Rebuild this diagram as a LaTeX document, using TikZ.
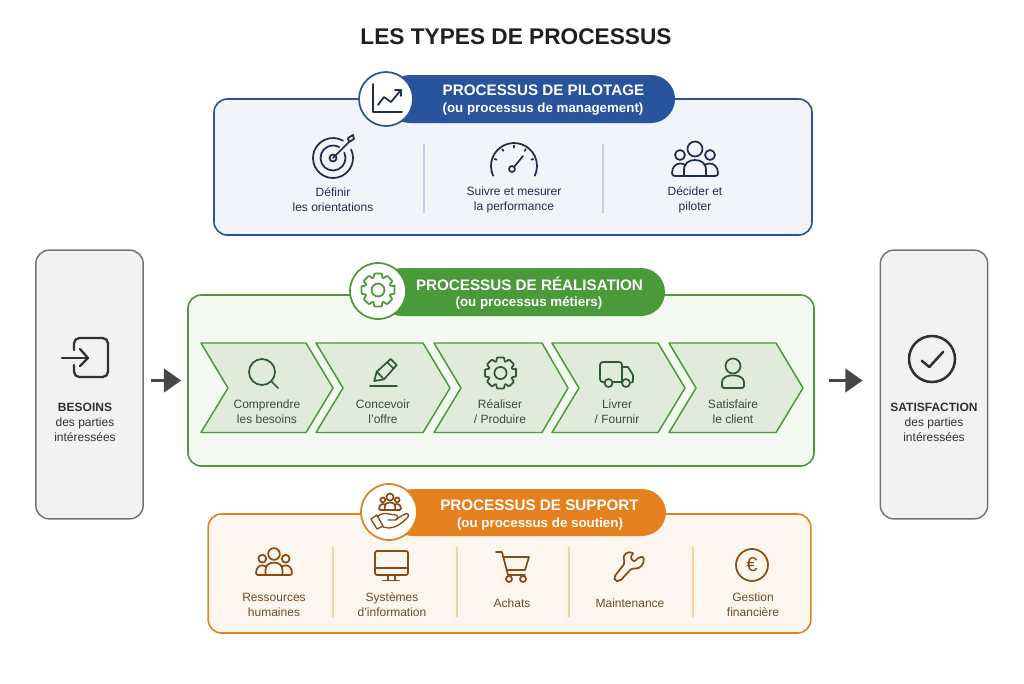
\documentclass[tikz,border=0pt]{standalone}
\usepackage{fontspec}
\setmainfont{Liberation Sans}
\usepackage{tikz}
\usetikzlibrary{arrows.meta, calc, positioning}
\definecolor{navy}{HTML}{2A539E}
\definecolor{navyink}{HTML}{1F2D4D}
\definecolor{navyfill}{HTML}{F1F4FB}
\definecolor{navyrule}{HTML}{C3CFE6}
\definecolor{leaf}{HTML}{4A9A3A}
\definecolor{leafink}{HTML}{2E5A36}
\definecolor{leaftxt}{HTML}{33503A}
\definecolor{leaffill}{HTML}{F3F8F1}
\definecolor{leafshade}{HTML}{DFECD9}
\definecolor{amber}{HTML}{E5801F}
\definecolor{amberink}{HTML}{8A4A14}
\definecolor{ambertxt}{HTML}{6E4A2A}
\definecolor{amberfill}{HTML}{FDF6EE}
\definecolor{amberrule}{HTML}{F6CFA3}
\definecolor{slate}{HTML}{2E3238}
\tikzstyle{flow} = [line width=2.6pt, draw=black!72, -{Triangle[length=13pt, width=17.5pt]}]
\tikzstyle{ico} = [line width=1.3pt, line cap=round, line join=round]
\tikzstyle{panel} = [rectangle, draw, line width=1.2pt, rounded corners=10pt, inner sep=0pt]
\tikzstyle{sidebox} = [panel, line width=1.1pt, draw=black!55, fill=black!5, minimum width=80.5pt, minimum height=201.5pt]
\tikzstyle{txt} = [font=\fontsize{9}{11.25}\selectfont, align=center, inner sep=0pt]
\tikzstyle{bannertxt} = [font=\bfseries\fontsize{11.4}{14.2}\selectfont, text=white, align=center, inner sep=0pt]
\tikzstyle{bannersub} = [bannertxt, font=\bfseries\fontsize{10}{12}\selectfont]
% gear: centre x, centre y, outer radius, colour
\newcommand{\gearicon}[4]{
    \begin{scope}[shift={(#1,#2)}]
        \draw[ico, draw=#4, rounded corners=0.6pt] (-13:#3) \foreach \a in {0,45,...,315} {
            -- (\a-13:#3) -- (\a+13:#3) -- (\a+20:0.76*#3) -- (\a+25:0.76*#3) } -- cycle;
        \draw[ico, draw=#4] (0,0) circle (0.38*#3);
    \end{scope}
}
% group of three: x, y of the middle head, scale, colour
\newcommand{\peopleicon}[4]{
    \begin{scope}[shift={(#1,#2)}, scale=#3]
        \draw[ico, draw=#4] (0,0) circle (7.5);
        \draw[ico, draw=#4] (-15,6) circle (5);
        \draw[ico, draw=#4] (15,6) circle (5);
        \draw[ico, draw=#4] (-11,27) -- (-11,21) .. controls (-11,14) and (-6,11) .. (0,11) .. controls (6,11) and (11,14) .. (11,21) -- (11,27) -- cycle;
        \draw[ico, draw=#4] (-11,27) -- (-20,27) .. controls (-22,27) and (-23,26) .. (-23,24) .. controls (-23,18) and (-19,14.5) .. (-15,14.5) .. controls (-13,14.5) and (-11.5,15) .. (-9.5,16);
        \draw[ico, draw=#4] (11,27) -- (20,27) .. controls (22,27) and (23,26) .. (23,24) .. controls (23,18) and (19,14.5) .. (15,14.5) .. controls (13,14.5) and (11.5,15) .. (9.5,16);
    \end{scope}
}
\begin{document}
\begin{tikzpicture}[x=0.75pt, y=-0.75pt]
    \useasboundingbox (0,0) rectangle (1024,683);
    \node[font=\bfseries\fontsize{17}{20}\selectfont, text=black!88, inner sep=0pt] (title) at (516,37) {LES TYPES DE PROCESSUS};

    % pilotage
    \node[panel, draw=navy, fill=navyfill, minimum width=448.5pt, minimum height=102pt] (pilotage) at (513,167) {};
    \fill[navy, rounded corners=18pt] (386,75) rectangle (675,123);
    \filldraw[draw=navy, fill=white, line width=1.3pt] (386,99) circle (27);
    \node[bannertxt] (pilotagetitle) at (543.5,90) {PROCESSUS DE PILOTAGE};
    \node[bannersub] (pilotagesub) at (543,109) {(ou processus de management)};
    \draw[ico, draw=navyink] (373,84) -- (373,112) -- (402,112);
    \draw[ico, draw=navyink] (378,105) -- (384,97) -- (391,102) -- (401,90);
    \draw[ico, draw=navyink] (395,90) -- (401,90) -- (401,96);
    \draw[ico, draw=navyink] (333,158) ++(-25:20) arc (-25:300:20);
    \draw[ico, draw=navyink] (333,158) ++(-25:12.5) arc (-25:300:12.5);
    \draw[ico, draw=navyink] (333,158) circle (3.5);
    \draw[ico, draw=navyink] (333,158) -- (349,142);
    \draw[ico, draw=navyink] (349,142) -- (348,138) -- (353,135) -- (354,139) -- (349,142);
    \draw[ico, draw=navyink] (514,166) ++(155:23) arc (155:385:23);
    \foreach \a in {200,235,270,305,340}
        \draw[ico, draw=navyink] (514,166) ++(\a:18.5) -- ++(\a:2);
    \draw[ico, draw=navyink] (512,169) circle (3);
    \draw[ico, draw=navyink] (514,167) -- (523,156);
    \peopleicon{695}{149}{1}{navyink}
    \draw[navyrule, line width=0.8pt] (424,144) -- (424,213);
    \draw[navyrule, line width=0.8pt] (603,144) -- (603,213);
    \node[txt, text=navyink] (orient) at (333,200) {Définir\\les orientations};
    \node[txt, text=navyink] (mesure) at (514,200) {Suivre et mesurer\\la performance};
    \node[txt, text=navyink] (decide) at (695,200) {Décider et\\piloter};

    % realisation
    \node[panel, draw=leaf, fill=leaffill, minimum width=469.5pt, minimum height=128.25pt] (realisation) at (501,380.5) {};
    \fill[leaf, rounded corners=18pt] (378,268) rectangle (665,316);
    \filldraw[draw=leaf, fill=white, line width=1.3pt] (378,291) circle (28);
    \node[bannertxt] (realisationtitle) at (529.5,284) {PROCESSUS DE RÉALISATION};
    \node[bannersub] (realisationsub) at (529,302.5) {(ou processus métiers)};
    \gearicon{378}{290}{17}{leaf}
    \foreach \xa/\xb/\xc in {201/306/333, 316/423/450, 434/542/568, 552/658/685, 669/776/803}
        \filldraw[draw=leaf, fill=leafshade, line width=1.1pt, line join=round] (\xa,343) -- (\xb,343) -- (\xc,388) -- (\xb,432.5) -- (\xa,432.5) -- (\xa+27,388) -- cycle;
    \draw[ico, draw=leafink] (262,372) circle (13);
    \draw[ico, draw=leafink] (271.5,381.5) -- (278,388);
    \draw[ico, draw=leafink] (374.3,381) -- (376.7,371.7) -- (390.7,359) -- (396.7,365) -- (384,379.3) -- cycle;
    \draw[ico, draw=leafink] (376.7,371.7) -- (384,379.3);
    \draw[ico, draw=leafink] (387.3,362.3) -- (393.3,368.3);
    \draw[ico, draw=leafink] (370,386) -- (397,386);
    \gearicon{500.5}{373}{16}{leafink}
    \draw[ico, draw=leafink] (605,382) -- (603,382) .. controls (601,382) and (600,381) .. (600,379) -- (600,365) .. controls (600,363) and (601,362) .. (603,362) -- (619,362) .. controls (621,362) and (622,363) .. (622,365) -- (622,382) -- (613,382);
    \draw[ico, draw=leafink] (622,367) -- (628,367) -- (633,375) -- (633,381) .. controls (633,382) and (632.5,382.5) .. (631,382.5);
    \draw[ico, draw=leafink] (608.5,383) circle (4);
    \draw[ico, draw=leafink] (626,383) circle (4);
    \draw[ico, draw=leafink] (733,366) circle (7.5);
    \draw[ico, draw=leafink, rounded corners=1.5pt] (722,388) -- (722,384) .. controls (722,378) and (727,375.5) .. (733,375.5) .. controls (739,375.5) and (744,378) .. (744,384) -- (744,388) -- cycle;
    \node[txt, text=leaftxt] (comprendre) at (267,411.5) {Comprendre\\les besoins};
    \node[txt, text=leaftxt] (concevoir) at (383,411.5) {Concevoir\\l'offre};
    \node[txt, text=leaftxt] (realiser) at (500,411.5) {Réaliser\\/ Produire};
    \node[txt, text=leaftxt] (livrer) at (617,411.5) {Livrer\\/ Fournir};
    \node[txt, text=leaftxt] (satisfaire) at (733,411.5) {Satisfaire\\le client};

    % support
    \node[panel, draw=amber, fill=amberfill, minimum width=452pt, minimum height=89.25pt] (support) at (509.5,573.5) {};
    \fill[amber, rounded corners=18pt] (389,489) rectangle (666,536);
    \filldraw[draw=amber, fill=white, line width=1.3pt] (389,512) circle (28);
    \node[bannertxt] (supporttitle) at (539.5,505.5) {PROCESSUS DE SUPPORT};
    \node[bannersub] (supportsub) at (540,524.5) {(ou processus de soutien)};
    \begin{scope}[ico]
        \peopleicon{390}{497}{0.48}{amberink}
    \end{scope}
    \draw[ico, line width=1pt, draw=amberink] (371,519) -- (377,515) -- (383,526) -- (377,529) -- cycle;
    \draw[ico, line width=1pt, draw=amberink] (377,517) .. controls (381,513) and (385,513) .. (389,514) -- (396,515) .. controls (399,516) and (398,520) .. (395,520) -- (388,520);
    \draw[ico, line width=1pt, draw=amberink] (396,519) -- (405,514) .. controls (408,512) and (410,516) .. (407,518) .. controls (401,524) and (395,528) .. (389,528) -- (383,527);
    \peopleicon{274}{554}{0.78}{amberink}
    \draw[ico, draw=amberink, rounded corners=1.5pt] (375,551) rectangle (408,575);
    \draw[ico, draw=amberink] (375,568) -- (408,568);
    \draw[ico, draw=amberink] (388,575) -- (388,580);
    \draw[ico, draw=amberink] (395,575) -- (395,580);
    \draw[ico, draw=amberink] (383,580.5) -- (399,580.5);
    \draw[ico, draw=amberink] (496,552) -- (502,552) -- (508,575) -- (525,575);
    \draw[ico, draw=amberink] (503,557) -- (529,557) -- (525,570) -- (507,570);
    \draw[ico, draw=amberink] (509,579) circle (3);
    \draw[ico, draw=amberink] (523,579) circle (3);
    \draw[ico, draw=amberink, rounded corners=1.5pt] (614,577) -- (625,563) -- (623,557) -- (627,552) -- (634,553) -- (630,557) -- (634,562) -- (639,557) -- (644,557) -- (643,565) -- (637,569) -- (632,568) -- (620,581) -- (615,581) -- cycle;
    \draw[ico, draw=amberink] (752,565) circle (16);
    \node[inner sep=0pt, text=amberink, font=\fontsize{15}{15}\selectfont] (euro) at (752,565) {€};
    \foreach \x in {333,457,569,693}
        \draw[amberrule, line width=0.8pt] (\x,547) -- (\x,617);
    \node[txt, text=ambertxt] (rh) at (274,604.5) {Ressources\\humaines};
    \node[txt, text=ambertxt] (si) at (392,604.5) {Systèmes\\d’information};
    \node[txt, text=ambertxt] (achats) at (512,603) {Achats};
    \node[txt, text=ambertxt] (maint) at (630,603) {Maintenance};
    \node[txt, text=ambertxt] (gestion) at (753,604.5) {Gestion\\financière};

    % entree et sortie
    \node[sidebox] (besoins) at (89.5,384.5) {};
    \node[sidebox] (satisfaction) at (934,384.5) {};
    \draw[ico, draw=slate, line width=1.7pt, rounded corners=4pt] (74,350) -- (74,338) -- (108,338) -- (108,377) -- (74,377) -- (74,365);
    \draw[ico, draw=slate, line width=1.7pt] (62,358) -- (88,358);
    \draw[ico, draw=slate, line width=1.7pt] (80,349) -- (88,358) -- (80,366);
    \node[txt, text=slate] (besoinstxt) at (85,422) {\textbf{BESOINS}\\des parties\\intéressées};
    \draw[ico, draw=slate, line width=1.9pt] (932,359) circle (23);
    \draw[ico, draw=slate, line width=1.9pt] (921.7,360.7) -- (929.3,367) -- (943.3,351.7);
    \node[txt, text=slate] (satisfactiontxt) at (934,422) {\textbf{SATISFACTION}\\des parties\\intéressées};
    \draw[flow, shorten <=5.25pt, shorten >=4.5pt] (besoins.east |- realisation.west) -- (realisation.west);
    \draw[flow, shorten <=10.5pt, shorten >=12.75pt] (realisation.east) -- (satisfaction.west |- realisation.east);
\end{tikzpicture}
\end{document}
